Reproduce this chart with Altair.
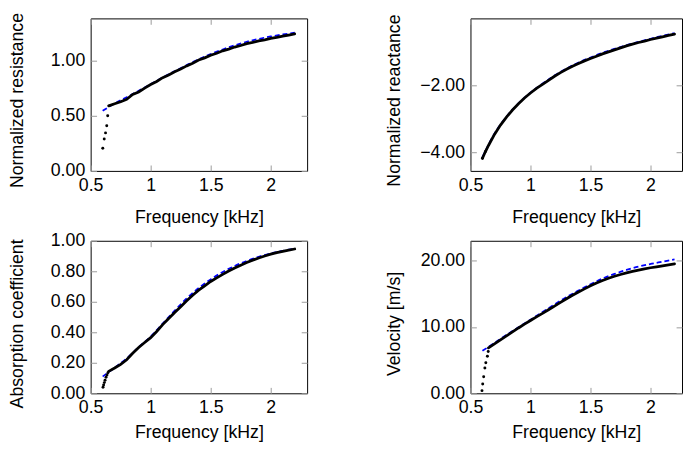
import altair as alt
import pandas as pd

# ---------------- data ----------------
FREQ_MAIN = [0.65, 0.70, 0.75, 0.80, 0.85, 0.90, 0.95, 1.00, 1.05, 1.10, 1.15,
             1.20, 1.25, 1.30, 1.35, 1.40, 1.45, 1.50, 1.55, 1.60, 1.65, 1.70,
             1.75, 1.80, 1.85, 1.90, 1.95, 2.00, 2.05, 2.10, 2.15, 2.20]
FREQ_MODEL = [0.6, 0.7, 0.8, 0.9, 1.0, 1.1, 1.2, 1.3, 1.4, 1.5, 1.6, 1.7, 1.8,
              1.9, 2.0, 2.1, 2.2]
X_TICKS = [0.5, 1, 1.5, 2]

# Normalized resistance
RES_EARLY_F = [0.601, 0.613, 0.624, 0.634, 0.642]
RES_EARLY_V = [0.205, 0.29, 0.345, 0.41, 0.50]
RES_MEAS = [0.590, 0.610, 0.628, 0.650, 0.694, 0.716, 0.752, 0.784, 0.812, 0.846,
            0.870, 0.899, 0.924, 0.953, 0.978, 1.006, 1.026, 1.050, 1.068, 1.090,
            1.105, 1.124, 1.138, 1.155, 1.166, 1.180, 1.190, 1.202, 1.212, 1.224,
            1.233, 1.243]
RES_MODEL = [0.545, 0.612, 0.668, 0.727, 0.787, 0.848, 0.905, 0.960, 1.013, 1.060,
             1.102, 1.140, 1.172, 1.198, 1.220, 1.238, 1.254]

# Normalized reactance
REA_EARLY_F = [0.600, 0.625]
REA_EARLY_V = [-4.18, -3.98]
REA_MEAS = [-3.80, -3.47, -3.19, -2.95, -2.74, -2.55, -2.38, -2.23, -2.09, -1.97,
            -1.85, -1.73, -1.62, -1.52, -1.43, -1.35, -1.27, -1.20, -1.13, -1.06,
            -1.00, -0.94, -0.88, -0.82, -0.77, -0.72, -0.68, -0.63, -0.59, -0.55,
            -0.51, -0.47]
REA_MODEL = [-4.15, -3.45, -2.94, -2.54, -2.22, -1.95, -1.71, -1.50, -1.32, -1.17,
             -1.03, -0.91, -0.80, -0.70, -0.61, -0.52, -0.44]

# Absorption coefficient
ABS_EARLY_F = [0.603, 0.608, 0.614, 0.620, 0.628, 0.636, 0.644]
ABS_EARLY_V = [0.04, 0.055, 0.07, 0.085, 0.105, 0.12, 0.135]
ABS_MEAS = [0.144, 0.166, 0.190, 0.220, 0.262, 0.300, 0.333, 0.365, 0.405, 0.450,
            0.490, 0.530, 0.568, 0.607, 0.643, 0.676, 0.705, 0.733, 0.757, 0.780,
            0.802, 0.822, 0.840, 0.858, 0.873, 0.887, 0.900, 0.912, 0.922, 0.931,
            0.939, 0.946]
ABS_MODEL = [0.110, 0.168, 0.228, 0.302, 0.372, 0.457, 0.542, 0.622, 0.690, 0.747,
             0.795, 0.835, 0.868, 0.895, 0.917, 0.934, 0.948]

# Velocity [m/s]
VEL_EARLY_F = [0.596, 0.602, 0.610, 0.620, 0.628, 0.641, 0.648]
VEL_EARLY_V = [0.4, 1.4, 2.5, 3.8, 4.6, 5.6, 6.3]
VEL_MEAS = [6.85, 7.45, 8.05, 8.65, 9.25, 9.85, 10.42, 10.98, 11.52, 12.05, 12.60,
            13.15, 13.70, 14.25, 14.78, 15.28, 15.75, 16.20, 16.62, 17.00, 17.35,
            17.65, 17.92, 18.16, 18.38, 18.58, 18.76, 18.93, 19.08, 19.23, 19.37,
            19.50]
VEL_MODEL = [6.4, 7.6, 8.8, 9.95, 11.1, 12.25, 13.4, 14.5, 15.5, 16.45, 17.3, 18.0,
             18.6, 19.1, 19.5, 19.85, 20.2]

FONT = "Liberation Sans"
FS = 18
PH = 155
PX_PER_KHZ = 122.0


def panel(ytitle, early_f, early_v, meas_v, model_v, ydom, yticks, title_x,
          connect_early, pw, xtitle_y, ytitle_y):
    model_df = pd.DataFrame({"f": FREQ_MODEL, "v": model_v})
    if connect_early:
        line_df = pd.DataFrame({"f": early_f + FREQ_MAIN, "v": early_v + meas_v})
    else:
        line_df = pd.DataFrame({"f": FREQ_MAIN, "v": meas_v})
    early_df = pd.DataFrame({"f": early_f, "v": early_v})
    xmax = 0.5 + pw / PX_PER_KHZ

    xenc = alt.X("f:Q",
                 scale=alt.Scale(domain=[0.5, xmax], nice=False, zero=False),
                 axis=alt.Axis(values=X_TICKS, format="~g", title="Frequency [kHz]",
                               ticks=False, domain=False, grid=True,
                               gridDash=[6, PH - 12, 6], gridColor="#9a9a9a",
                               gridWidth=1, labelPadding=6, labelFlush=False,
                               titleY=xtitle_y, titleBaseline="alphabetic"))
    yenc = alt.Y("v:Q",
                 scale=alt.Scale(domain=ydom, nice=False, zero=False),
                 axis=alt.Axis(values=yticks, format=".2f", title=ytitle,
                               ticks=False, domain=False, grid=True,
                               gridDash=[6, pw - 12, 6], gridColor="#9a9a9a",
                               gridWidth=1, labelPadding=6, labelFlush=False,
                               titleX=title_x, titleY=ytitle_y,
                               titleBaseline="middle"))

    model = alt.Chart(model_df).mark_line(
        color="#0000ff", strokeWidth=1.8, strokeDash=[5, 3], interpolate="monotone"
    ).encode(x=xenc, y=yenc)
    meas = alt.Chart(line_df).mark_line(
        color="black", strokeWidth=2.8, strokeCap="round"
    ).encode(x=xenc, y=yenc)
    dots = alt.Chart(early_df).mark_circle(
        color="black", size=9, opacity=1
    ).encode(x=xenc, y=yenc)
    return alt.layer(model, meas, dots).properties(width=pw, height=PH)


p1 = panel("Normalized resistance", RES_EARLY_F, RES_EARLY_V, RES_MEAS, RES_MODEL,
           [0, 1.384], [0, 0.5, 1.0], -74, False, 220, 52, 83)
p2 = panel("Normalized reactance", REA_EARLY_F, REA_EARLY_V, REA_MEAS, REA_MODEL,
           [-4.56, 0.0], [-4, -2], -77, True, 215, 52, 83)
p3 = panel("Absorption coefficient", ABS_EARLY_F, ABS_EARLY_V, ABS_MEAS, ABS_MODEL,
           [0, 1.0], [0, 0.2, 0.4, 0.6, 0.8, 1.0], -74, False, 220, 45, 84)
p4 = panel("Velocity [m/s]", VEL_EARLY_F, VEL_EARLY_V, VEL_MEAS, VEL_MODEL,
           [0, 23], [0, 10, 20], -77, False, 215, 45, 84)

chart = alt.vconcat(
    alt.hconcat(p1, p2, spacing=78),
    alt.hconcat(p3, p4, spacing=78),
    spacing=4,
).properties(
    padding={"left": 0, "top": 0, "right": 0, "bottom": 0}
).configure(
    font=FONT
).configure_axis(
    labelFont=FONT, titleFont=FONT, labelFontSize=FS, titleFontSize=FS,
    labelColor="black", titleColor="black", titleFontWeight="normal"
).configure_view(
    stroke="black", strokeWidth=1
)

chart.save("out.html", embed_options={"renderer": "svg", "actions": False})
